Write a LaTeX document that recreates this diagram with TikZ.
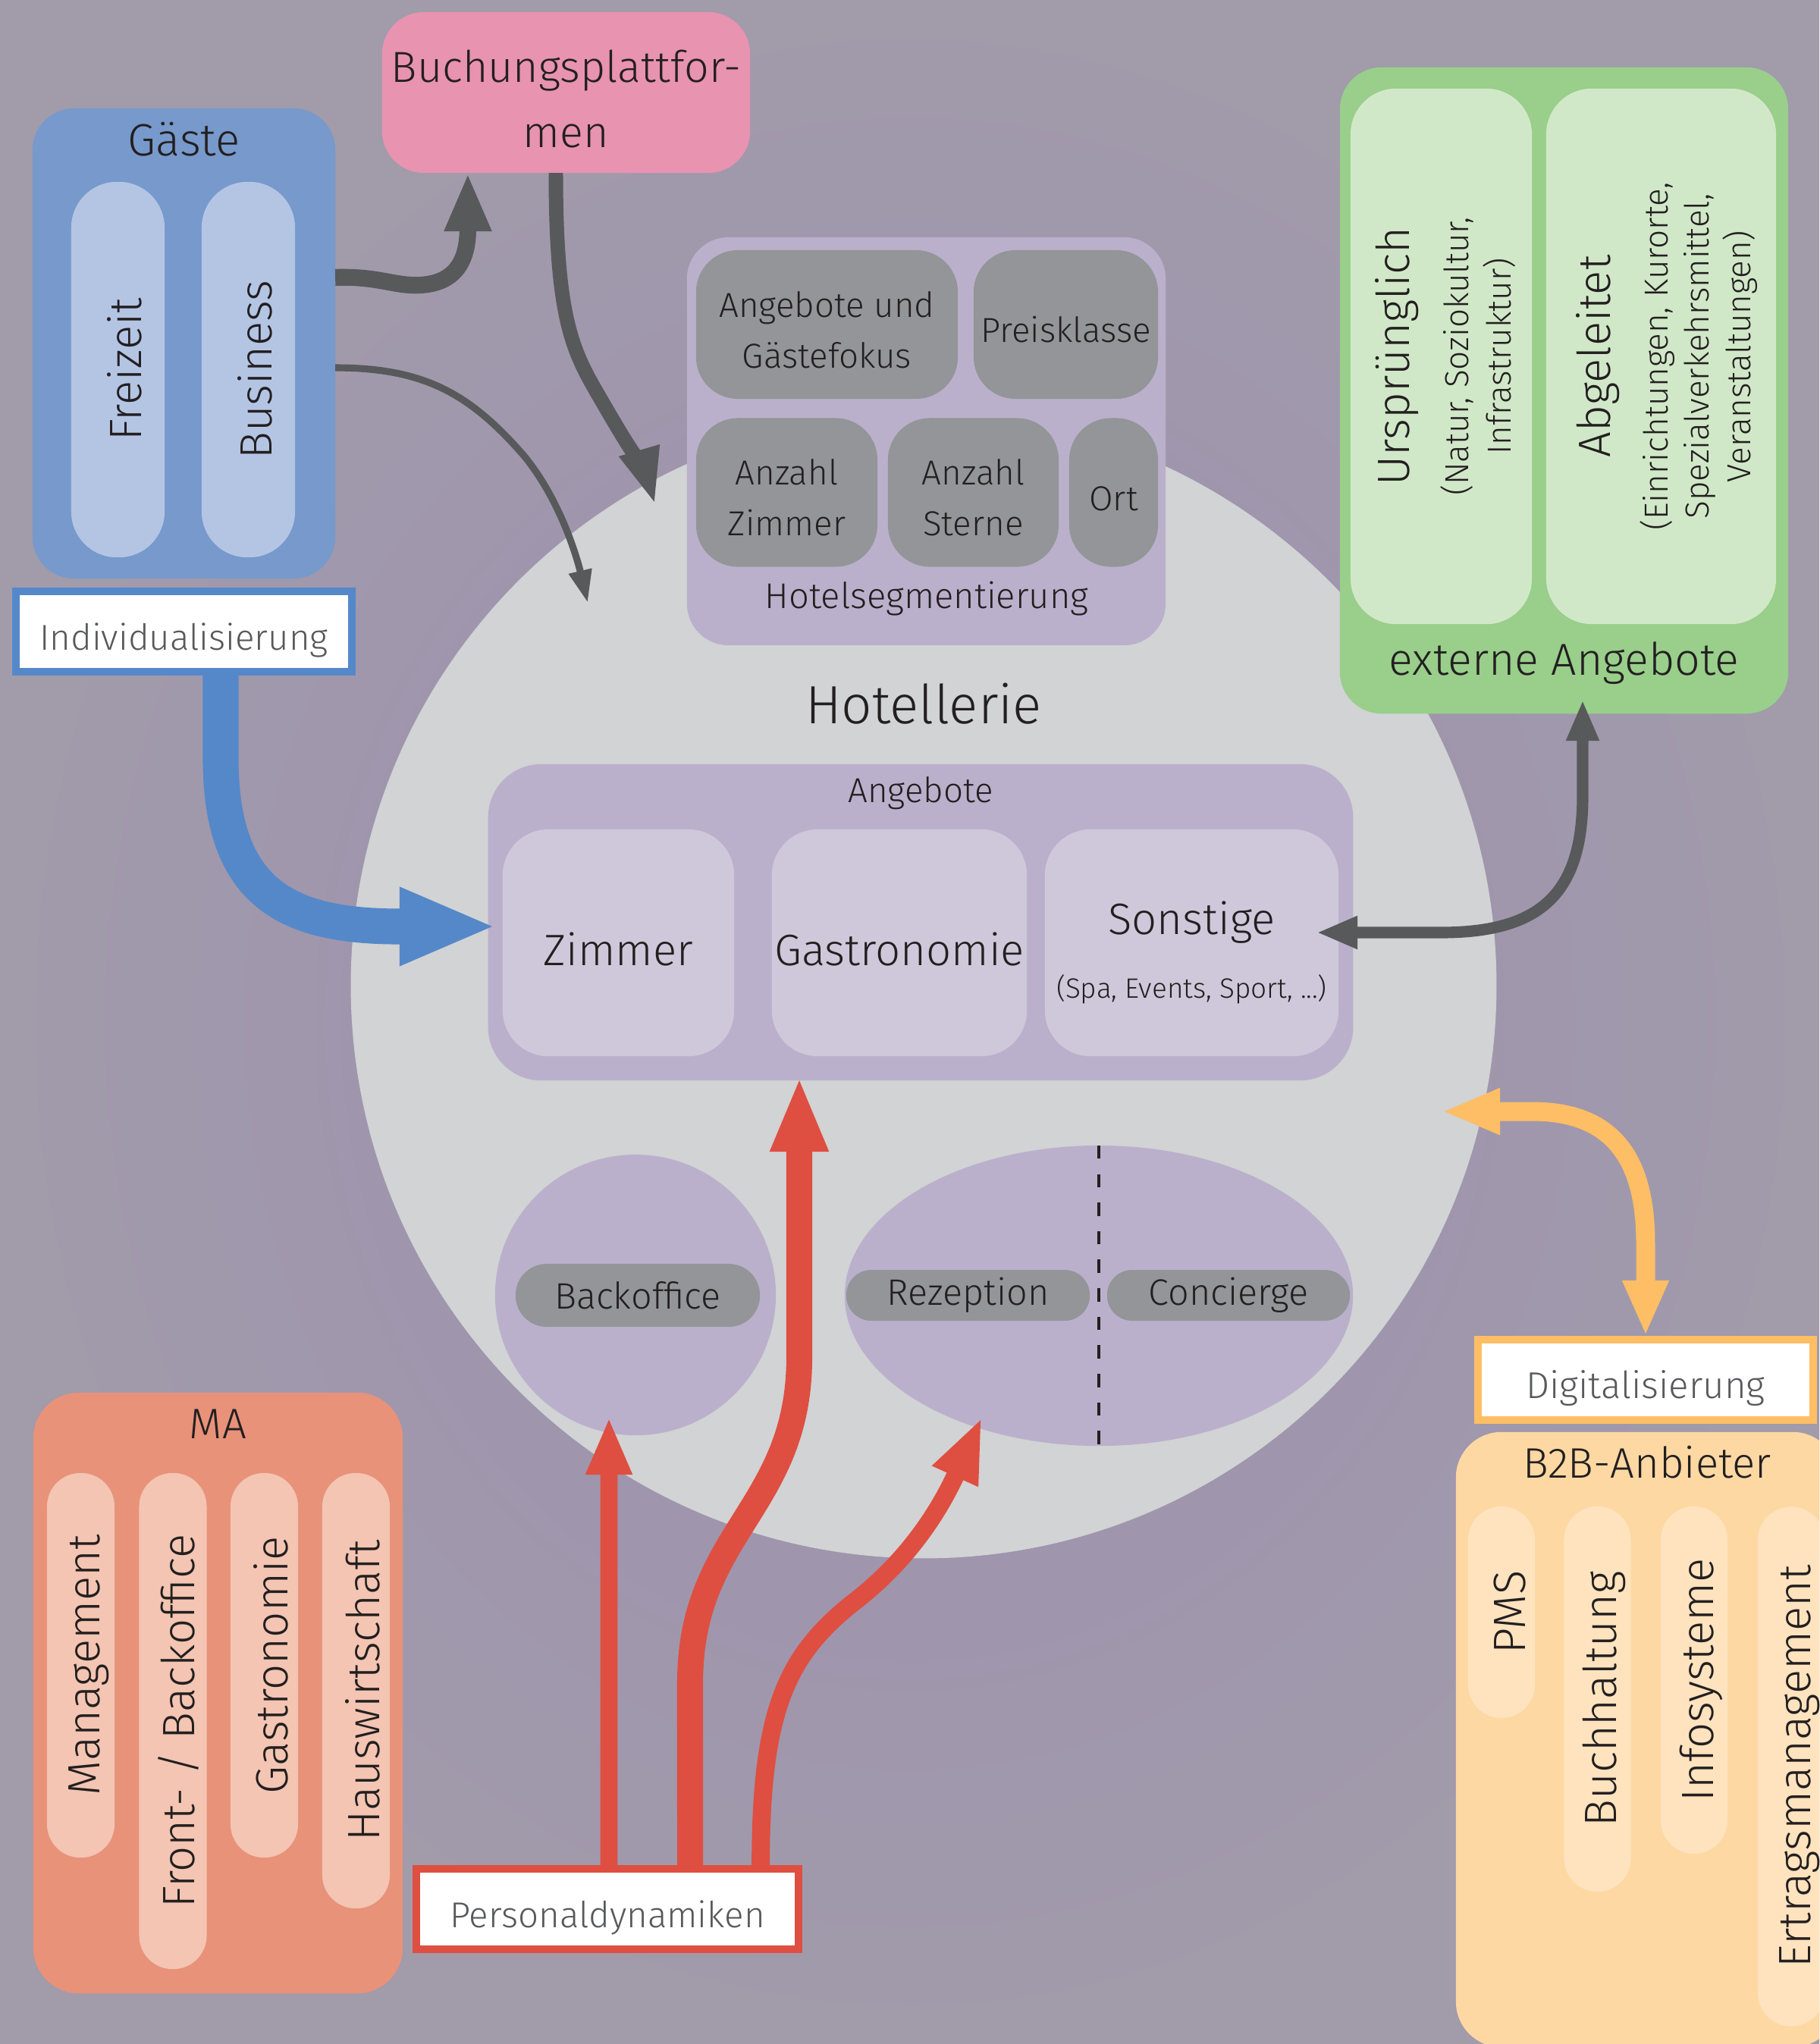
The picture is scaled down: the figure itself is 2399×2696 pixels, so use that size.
\documentclass[tikz,border=0pt]{standalone}
\usepackage{fontspec}
\setmainfont{Fira Sans Light}
\usetikzlibrary{arrows.meta,shapes.geometric}

\definecolor{bgpurple}{RGB}{157,142,177}
\definecolor{bggray}{RGB}{161,155,170}
\definecolor{hotelgray}{RGB}{209,211,212}
\definecolor{seglila}{RGB}{187,176,203}
\definecolor{seggray}{RGB}{147,149,152}
\definecolor{offerlila}{RGB}{207,200,218}
\definecolor{guestblue}{RGB}{119,153,204}
\definecolor{guestpill}{RGB}{180,197,228}
\definecolor{indivblue}{RGB}{85,136,200}
\definecolor{bookpink}{RGB}{232,147,176}
\definecolor{extgreen}{RGB}{153,206,139}
\definecolor{extpill}{RGB}{209,232,200}
\definecolor{staffred}{RGB}{232,146,122}
\definecolor{staffpill}{RGB}{243,197,178}
\definecolor{dynred}{RGB}{222,79,65}
\definecolor{digiorange}{RGB}{253,190,101}
\definecolor{btobfill}{RGB}{253,216,163}
\definecolor{btobpill}{RGB}{254,227,190}
\definecolor{arrowgray}{RGB}{88,89,91}
\definecolor{inkdark}{RGB}{35,31,32}

% Text etwas tiefer setzen
\newcommand{\liftup}{\rule{0pt}{1.05em}}

\tikzset{
  grpbox/.style={rounded corners=0.55cm, inner sep=0pt, outer sep=0pt, text=inkdark},
  lifted/.style={execute at begin node={\liftup}},
  segbox/.style={grpbox, fill=seggray, minimum height=1.96cm, align=center, font=\fontsize{13}{19}\selectfont},
  offerbox/.style={grpbox, fill=offerlila, rounded corners=0.6cm, minimum height=2.99cm, align=center, font=\fontsize{16.5}{20}\selectfont},
  pill/.style={grpbox, lifted, rotate=90, minimum height=0.89cm, rounded corners=0.44cm, font=\fontsize{17}{20}\selectfont},
  deskpill/.style={grpbox, fill=seggray, rounded corners=0.33cm, minimum height=0.67cm, font=\fontsize{13.8}{16}\selectfont},
  tagbox/.style={draw=#1, line width=2.85pt, fill=white, minimum width=4.43cm, minimum height=1.06cm, inner sep=0pt, text height=14pt, text depth=0pt, text=arrowgray, font=\fontsize{13.5}{16}\selectfont},
  lbl/.style={text=inkdark, inner sep=0pt, font=\fontsize{#1}{#1}\selectfont},
  garrow/.style={draw=arrowgray},
}

\begin{document}
\begin{tikzpicture}[x=0.01cm, y=-0.01cm]
  \useasboundingbox (0,0) rectangle (2399,2696);
  \clip (0,0) rectangle (2399,2696);
  \shade[inner color=bgpurple, outer color=bggray] (0,0) rectangle (2399,2696);

  % Hotellerie
  \node[circle, fill=hotelgray, minimum size=15.1cm, inner sep=0pt, outer sep=0pt] (hotel) at (1218,1300) {};
  \node[lbl=20.2] (hoteltitle) at (1218,928) {Hotellerie};

  % Hotelsegmentierung
  \node[grpbox, fill=seglila, minimum width=6.31cm, minimum height=5.38cm] (seg) at (1221.5,582) {};
  \node[segbox, minimum width=3.45cm] (angfok) at (1090.5,428) {\liftup Angebote und\\Gästefokus};
  \node[segbox, minimum width=2.43cm] (preis) at (1405.5,428) {\liftup Preisklasse};
  \node[segbox, minimum width=2.39cm] (anzzim) at (1037.5,649.5) {\liftup Anzahl\\Zimmer};
  \node[segbox, minimum width=2.25cm] (anzst) at (1283.5,649.5) {\liftup Anzahl\\Sterne};
  \node[segbox, minimum width=1.17cm] (ort) at (1468.5,649.5) {\liftup Ort};
  \node[lbl=13.4] (seglabel) at (1222,790) {Hotelsegmentierung};

  % Angebote
  \node[grpbox, fill=seglila, rounded corners=0.7cm, minimum width=11.4cm, minimum height=4.17cm] (offer) at (1214,1216.5) {};
  \node[lbl=13] (offerlabel) at (1214,1046) {Angebote};
  \node[offerbox, minimum width=3.05cm] (zim) at (815.5,1243.5) {\liftup Zimmer};
  \node[offerbox, minimum width=3.36cm] (gast) at (1186,1243.5) {\liftup Gastronomie};
  \node[offerbox, minimum width=3.87cm] (sonst) at (1571.5,1243.5) {\rule{0pt}{1.2em}Sonstige\\[4pt]{\fontsize{10.5}{12}\selectfont (Spa, Events, Sport, ...)}};

  % Bereiche
  \node[circle, fill=seglila, minimum size=3.7cm, inner sep=0pt, outer sep=0pt] (boell) at (838,1708) {};
  \node[ellipse, fill=seglila, minimum width=6.7cm, minimum height=3.96cm, inner sep=0pt, outer sep=0pt] (frontell) at (1449,1709) {};
  \draw[inkdark, line width=1pt, dash pattern=on 5pt off 5.7pt] (frontell.north) -- (frontell.south);
  \node[deskpill, minimum width=3.22cm, minimum height=0.83cm, rounded corners=0.41cm] (backoff) at (841,1708.5) {Backoffice};
  \node[deskpill, minimum width=3.21cm] (rezep) at (1276.5,1708.5) {Rezeption};
  \node[deskpill, minimum width=3.2cm] (conc) at (1620,1708.5) {Concierge};

  % Gaeste
  \node[grpbox, fill=guestblue, minimum width=3.99cm, minimum height=6.2cm] (gaeste) at (242.5,453) {};
  \node[lbl=17] (gaestelabel) at (242.5,184) {Gäste};
  \node[pill, fill=guestpill, minimum width=4.95cm, minimum height=1.23cm, rounded corners=0.6cm] (freizeit) at (155.5,487.5) {Freizeit};
  \node[pill, fill=guestpill, minimum width=4.95cm, minimum height=1.23cm, rounded corners=0.6cm] (business) at (327.5,487.5) {Business};
  \node[tagbox=indivblue] (indiv) at (242.5,833) {Individualisierung};

  % Buchungsplattformen
  \node[grpbox, fill=bookpink, minimum width=4.85cm, minimum height=2.12cm, align=center, font=\fontsize{16.3}{24.5}\selectfont] (buch) at (746.5,122) {\liftup Buchungsplattfor-\\men};

  % externe Angebote
  \node[grpbox, fill=extgreen, minimum width=5.91cm, minimum height=8.52cm] (extern) at (2062.5,515) {};
  \node[lbl=16.8] (externlabel) at (2062.5,875) {externe Angebote};
  \node[pill, fill=extpill, minimum width=7.06cm, minimum height=2.39cm, rounded corners=0.6cm, align=center, font=\fontsize{12.5}{16}\selectfont] (urspr) at (1900.5,470) {{\fontsize{17}{20}\selectfont\rule{0pt}{16pt}Ursprünglich}\\[6pt](Natur, Soziokultur,\\Infrastruktur)};
  \node[pill, fill=extpill, minimum width=7.06cm, minimum height=3.03cm, rounded corners=0.6cm, align=center, font=\fontsize{12.5}{15.6}\selectfont] (abgel) at (2190.5,470) {{\fontsize{17}{20}\selectfont\rule{0pt}{17pt}Abgeleitet}\\[6pt](Einrichtungen, Kurorte,\\Spezialverkehrsmittel,\\Veranstaltungen)};

  % MA
  \node[grpbox, fill=staffred, rounded corners=0.6cm, minimum width=4.87cm, minimum height=7.92cm] (staff) at (287.5,2233) {};
  \node[lbl=16] (stafflabel) at (287.5,1878) {MA};
  \node[pill, fill=staffpill, minimum width=5.07cm] (mgmt) at (106.5,2196.5) {Management};
  \node[pill, fill=staffpill, minimum width=6.54cm] (frontback) at (228,2270) {Front- / Backoffice};
  \node[pill, fill=staffpill, minimum width=5.07cm] (gastro) at (348.5,2196.5) {Gastronomie};
  \node[pill, fill=staffpill, minimum width=5.74cm] (hausw) at (469.5,2230) {Hauswirtschaft};
  \node[tagbox=dynred, minimum width=5.04cm] (pers) at (801,2518) {Personaldynamiken};

  % B2B
  \node[tagbox=digiorange, minimum width=4.42cm, font=\fontsize{14}{17}\selectfont] (digi) at (2170,1820) {Digitalisierung};
  \node[grpbox, fill=btobfill, rounded corners=0.6cm, minimum width=5.04cm, minimum height=8.11cm] (btob) at (2172,2294.5) {};
  \node[lbl=16] (btoblabel) at (2172,1929) {B2B-Anbieter};
  \node[pill, fill=btobpill, minimum width=2.79cm, minimum height=0.88cm] (pms) at (1980,2126.5) {PMS};
  \node[pill, fill=btobpill, minimum width=5.08cm, minimum height=0.88cm] (buchh) at (2106.5,2241) {Buchhaltung};
  \node[pill, fill=btobpill, minimum width=4.58cm, minimum height=0.88cm] (info) at (2234,2216) {Infosysteme};
  \node[pill, fill=btobpill, minimum width=6.85cm, minimum height=0.88cm] (ertrag) at (2362,2330) {Ertragsmanagement};

  % Pfeilenden
  \coordinate (segin) at (864,666);
  \coordinate (hotelin) at (775,795);
  \coordinate (zimin) at (655,1222);
  \coordinate (sonstin) at (1736,1230);
  \coordinate (extin) at (2087,923);
  \coordinate (digiin) at (1901,1466);
  \coordinate (boin) at (803,1869);
  \coordinate (angin) at (1054,1420);
  \coordinate (frontin) at (1295,1869);

  % Pfeile
  \draw[garrow, line width=6.3pt, -{Triangle[length=0.77cm,width=0.57cm]}] ([yshift=0.87cm]gaeste.east) .. controls (500,364) and (520,378) .. (555,376) .. controls (600,373) and (617,345) .. ([xshift=-1.295cm]buch.south);
  \draw[garrow, line width=5.4pt, -{Triangle[length=0.75cm,width=0.5cm]}] ([xshift=-0.135cm]buch.south) .. controls (733,440) and (760,470) .. (800,540) .. controls (835,600) and (852,625) .. (segin);
  \draw[garrow, line width=2.6pt, -{Triangle[length=0.43cm,width=0.29cm]}] ([yshift=-0.32cm]gaeste.east) .. controls (560,485) and (620,520) .. (690,600) .. controls (740,660) and (762,740) .. (hotelin);
  \draw[garrow, line width=4.3pt, {Triangle[length=0.54cm,width=0.4cm]}-{Triangle[length=0.54cm,width=0.4cm]}] (sonstin) -- (1900,1230) .. controls (2030,1230) and (2087,1180) .. (2087,1050) -- (extin);
  \draw[indivblue, line width=13.4pt, -{Triangle[length=1.28cm,width=0.94cm]}] ([xshift=0.485cm]indiv.south) -- (291,1000) .. controls (291,1180) and (380,1222) .. (527,1222) -- (zimin);
  \draw[digiorange, line width=7.1pt, {Triangle[length=0.77cm,width=0.56cm]}-{Triangle[length=0.73cm,width=0.56cm]}] (digiin) -- (2020,1466) .. controls (2120,1466) and (2170,1520) .. (2170,1640) -- (digi.north);
  \draw[dynred, line width=6.5pt, -{Triangle[length=0.76cm,width=0.56cm]}] ([xshift=0.02cm]pers.north) -- (boin);
  \draw[dynred, line width=9.7pt, -{Triangle[length=0.99cm,width=0.7cm]}] ([xshift=1.09cm]pers.north) -- (910,2220) .. controls (910,2020) and (1054,1990) .. (1054,1790) -- (angin);
  \draw[dynred, line width=6.8pt, -{Triangle[length=0.86cm,width=0.6cm]}] ([xshift=2.02cm]pers.north) .. controls (1003,2250) and (1040,2180) .. (1130,2110) .. controls (1200,2055) and (1240,1990) .. (frontin);
\end{tikzpicture}
\end{document}
